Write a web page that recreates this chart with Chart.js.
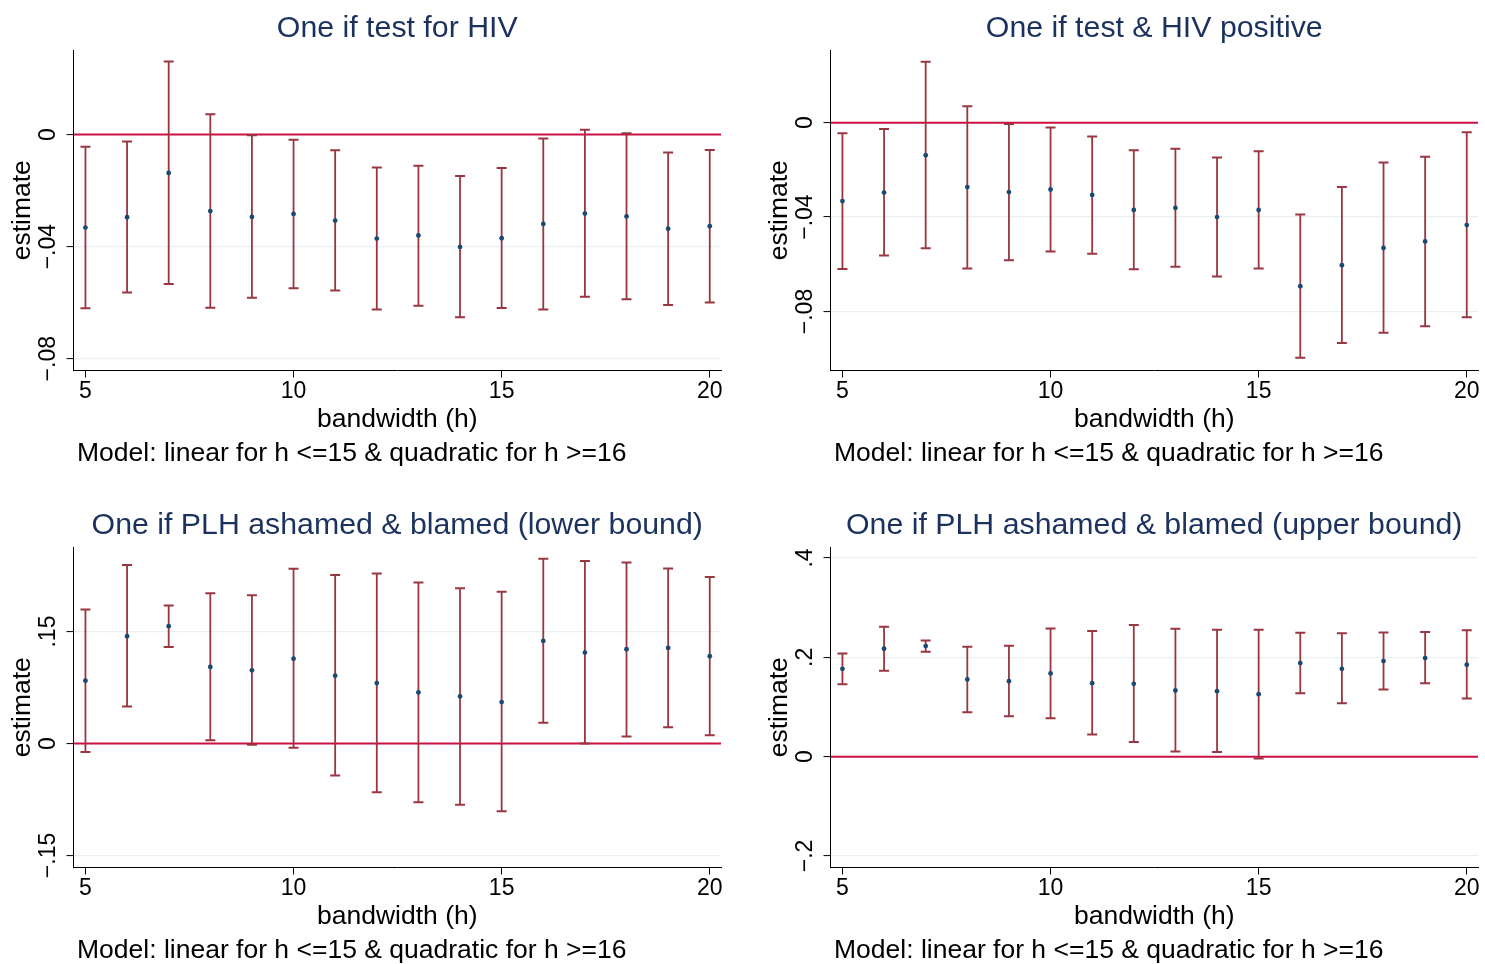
<!DOCTYPE html>
<html>
<head>
<meta charset="utf-8">
<title>Estimates by bandwidth</title>
<script src="https://cdn.jsdelivr.net/npm/chart.js@4/dist/chart.umd.min.js"></script>
<style>
  html, body { margin: 0; padding: 0; background: #fff; width: 1485px; height: 964px; overflow: hidden; }
  canvas { position: absolute; }
</style>
</head>
<body>
<canvas id="pTest" width="728" height="497" style="left:0px;top:0px"></canvas>
<canvas id="pPos" width="728" height="497" style="left:757px;top:0px"></canvas>
<canvas id="pLow" width="728" height="467" style="left:0px;top:497px"></canvas>
<canvas id="pUp" width="728" height="467" style="left:757px;top:497px"></canvas>
<script>
// Bandwidths (h) at which each model was estimated
const bandwidth = [5, 6, 7, 8, 9, 10, 11, 12, 13, 14, 15, 16, 17, 18, 19, 20];
const xTicks = [5, 10, 15, 20];

// One if test for HIV
const testEst = [-0.0332, -0.0295, -0.0137, -0.0273, -0.0294, -0.0283, -0.0307, -0.0371, -0.0360, -0.0401, -0.0370, -0.0319, -0.0282, -0.0292, -0.0336, -0.0327];
const testLo  = [-0.0620, -0.0564, -0.0533, -0.0618, -0.0582, -0.0548, -0.0556, -0.0624, -0.0611, -0.0652, -0.0619, -0.0624, -0.0579, -0.0588, -0.0608, -0.0599];
const testHi  = [-0.0043, -0.0025, 0.0261, 0.0073, -0.0002, -0.0018, -0.0056, -0.0117, -0.0111, -0.0148, -0.0119, -0.0014, 0.0017, 0.0005, -0.0064, -0.0055];
const testTicks = [0, -0.04, -0.08];

// One if test & HIV positive
const posEst = [-0.0332, -0.0296, -0.0138, -0.0273, -0.0294, -0.0283, -0.0306, -0.0370, -0.0361, -0.0400, -0.0370, -0.0693, -0.0604, -0.0531, -0.0503, -0.0434];
const posLo  = [-0.0620, -0.0563, -0.0532, -0.0618, -0.0583, -0.0546, -0.0555, -0.0621, -0.0610, -0.0652, -0.0618, -0.0996, -0.0934, -0.0890, -0.0862, -0.0824];
const posHi  = [-0.0045, -0.0027, 0.0258, 0.0070, -0.0006, -0.0020, -0.0058, -0.0117, -0.0110, -0.0148, -0.0121, -0.0389, -0.0273, -0.0169, -0.0144, -0.0041];
const posTicks = [0, -0.04, -0.08];

// One if PLH ashamed & blamed (lower bound)
const lowEst = [0.0842, 0.1437, 0.1572, 0.1026, 0.0981, 0.1137, 0.0909, 0.0810, 0.0685, 0.0631, 0.0555, 0.1375, 0.1218, 0.1263, 0.1281, 0.1169];
const lowLo  = [-0.0112, 0.0497, 0.1294, 0.0045, -0.0018, -0.0058, -0.0430, -0.0654, -0.0788, -0.0819, -0.0909, 0.0278, 0.0000, 0.0094, 0.0219, 0.0112];
const lowHi  = [0.1796, 0.2391, 0.1848, 0.2015, 0.1988, 0.2342, 0.2257, 0.2279, 0.2158, 0.2082, 0.2033, 0.2476, 0.2445, 0.2427, 0.2346, 0.2230];
const lowTicks = [0.15, 0, -0.15];

// One if PLH ashamed & blamed (upper bound)
const upEst = [0.1769, 0.2173, 0.2226, 0.1554, 0.1520, 0.1675, 0.1480, 0.1466, 0.1332, 0.1318, 0.1258, 0.1884, 0.1769, 0.1924, 0.1984, 0.1850];
const upLo  = [0.1460, 0.1729, 0.2112, 0.0894, 0.0814, 0.0774, 0.0444, 0.0296, 0.0101, 0.0094, -0.0040, 0.1278, 0.1076, 0.1352, 0.1480, 0.1171];
const upHi  = [0.2078, 0.2617, 0.2341, 0.2213, 0.2233, 0.2582, 0.2529, 0.2650, 0.2576, 0.2556, 0.2556, 0.2496, 0.2483, 0.2502, 0.2509, 0.2543];
const upTicks = [0.4, 0.2, 0, -0.2];

// Reference line drawn at zero effect
const refValue = 0;

const yTitle = 'estimate';
const xTitle = 'bandwidth (h)';
const noteText = 'Model: linear for h <=15 & quadratic for h >=16';

// ---- styling / layout ----
const FONT = '"Liberation Sans", Arial, Helvetica, sans-serif';
const TITLE_COLOR = '#1c325e';
const MARKER_COLOR = '#1a4a73';
const CI_COLOR = '#993640';
const REF_COLOR = '#cc1142';
const GRID_COLOR = '#e9f0f2';
const X_MIN = 4.713, X_MAX = 20.27;
const AREA = { left: 73.5, top: 50, right: 724, bottom: 370.5 };

Chart.defaults.font.family = FONT;

// Stata-style numeric label: no leading zero, true minus sign
function axisLabel(v) {
  if (v === 0) return '0';
  const s = String(Math.abs(v)).replace(/^0/, '');
  return (v < 0 ? '\u2212' : '') + s;
}

// Titles, axis titles, note and rotated y tick labels
const panelText = {
  id: 'panelText',
  afterDraw(chart, args, opts) {
    const ctx = chart.ctx;
    const a = chart.chartArea;
    const ys = chart.scales.y;
    const cx = (a.left + a.right) / 2;
    ctx.save();
    ctx.textBaseline = 'alphabetic';

    ctx.font = '30.3px ' + FONT;
    ctx.fillStyle = TITLE_COLOR;
    ctx.textAlign = 'center';
    ctx.fillText(opts.title, cx, 37.3);

    ctx.fillStyle = '#000';
    ctx.font = '26.5px ' + FONT;
    ctx.fillText(xTitle, cx, 427);

    ctx.textAlign = 'left';
    ctx.fillText(noteText, 77, 461);

    ctx.save();
    ctx.translate(29.5, (a.top + a.bottom) / 2);
    ctx.rotate(-Math.PI / 2);
    ctx.textAlign = 'center';
    ctx.fillText(yTitle, 0, 0);
    ctx.restore();

    ctx.font = '23px ' + FONT;
    ys.ticks.forEach(t => {
      const py = ys.getPixelForValue(t.value);
      ctx.save();
      ctx.translate(a.left - 18.5, py);
      ctx.rotate(-Math.PI / 2);
      ctx.textAlign = 'center';
      ctx.fillText(axisLabel(t.value), 0, 0);
      ctx.restore();
    });
    ctx.restore();
  }
};

function makePanel(id, title, est, lo, hi, yTicks, yMin, yMax) {
  const canvas = document.getElementById(id);
  const H = canvas.height, W = canvas.width;
  return new Chart(canvas, {
    type: 'scatter',
    data: {
      datasets: [
        {
          type: 'line',
          data: [{ x: X_MIN, y: refValue }, { x: X_MAX, y: refValue }],
          borderColor: REF_COLOR,
          borderWidth: 2,
          pointRadius: 0,
          order: 10
        },
        {
          type: 'bar',
          data: bandwidth.map((h, i) => ({ x: h, y: [lo[i], hi[i]] })),
          backgroundColor: CI_COLOR,
          borderWidth: 0,
          barThickness: 1.8,
          inflateAmount: 0,
          order: 8
        },
        {
          data: bandwidth.map((h, i) => ({ x: h, y: hi[i] })),
          pointStyle: 'line',
          pointRadius: 5,
          pointBorderWidth: 2,
          pointBorderColor: CI_COLOR,
          order: 6
        },
        {
          data: bandwidth.map((h, i) => ({ x: h, y: lo[i] })),
          pointStyle: 'line',
          pointRadius: 5,
          pointBorderWidth: 2,
          pointBorderColor: CI_COLOR,
          order: 5
        },
        {
          data: bandwidth.map((h, i) => ({ x: h, y: est[i] })),
          pointStyle: 'circle',
          pointRadius: 2.4,
          pointBorderWidth: 0,
          pointBackgroundColor: MARKER_COLOR,
          order: 1
        }
      ]
    },
    options: {
      responsive: false,
      animation: false,
      events: [],
      devicePixelRatio: 1,
      layout: { padding: { left: 0, top: AREA.top, right: W - AREA.right, bottom: 0 } },
      plugins: {
        legend: { display: false },
        tooltip: { enabled: false },
        panelText: { title: title }
      },
      scales: {
        x: {
          type: 'linear',
          min: X_MIN,
          max: X_MAX,
          offset: false,
          afterBuildTicks: s => { s.ticks = xTicks.map(v => ({ value: v })); },
          afterFit: s => { s.height = H - AREA.bottom; },
          grid: { offset: false, drawOnChartArea: false, drawTicks: true, tickLength: 7, tickColor: '#000', tickWidth: 1 },
          border: { display: true, color: '#000', width: 1 },
          ticks: { color: '#000', font: { size: 23 }, padding: 0, maxRotation: 0, autoSkip: false }
        },
        y: {
          type: 'linear',
          min: yMin,
          max: yMax,
          beginAtZero: false,
          afterBuildTicks: s => { s.ticks = yTicks.map(v => ({ value: v })); },
          afterFit: s => { s.width = AREA.left; },
          grid: { offset: false, color: GRID_COLOR, lineWidth: 1.2, drawTicks: true, tickLength: 7, tickColor: '#000', tickWidth: 1 },
          border: { display: true, color: '#000', width: 1 },
          ticks: { display: false }
        }
      }
    },
    plugins: [panelText]
  });
}

makePanel('pTest', 'One if test for HIV', testEst, testLo, testHi, testTicks, -0.0842, 0.0302);
makePanel('pPos', 'One if test & HIV positive', posEst, posLo, posHi, posTicks, -0.105, 0.0308);
makePanel('pLow', 'One if PLH ashamed & blamed (lower bound)', lowEst, lowLo, lowHi, lowTicks, -0.1661, 0.2633);
makePanel('pUp', 'One if PLH ashamed & blamed (upper bound)', upEst, upLo, upHi, upTicks, -0.2233, 0.4222);
</script>
</body>
</html>
